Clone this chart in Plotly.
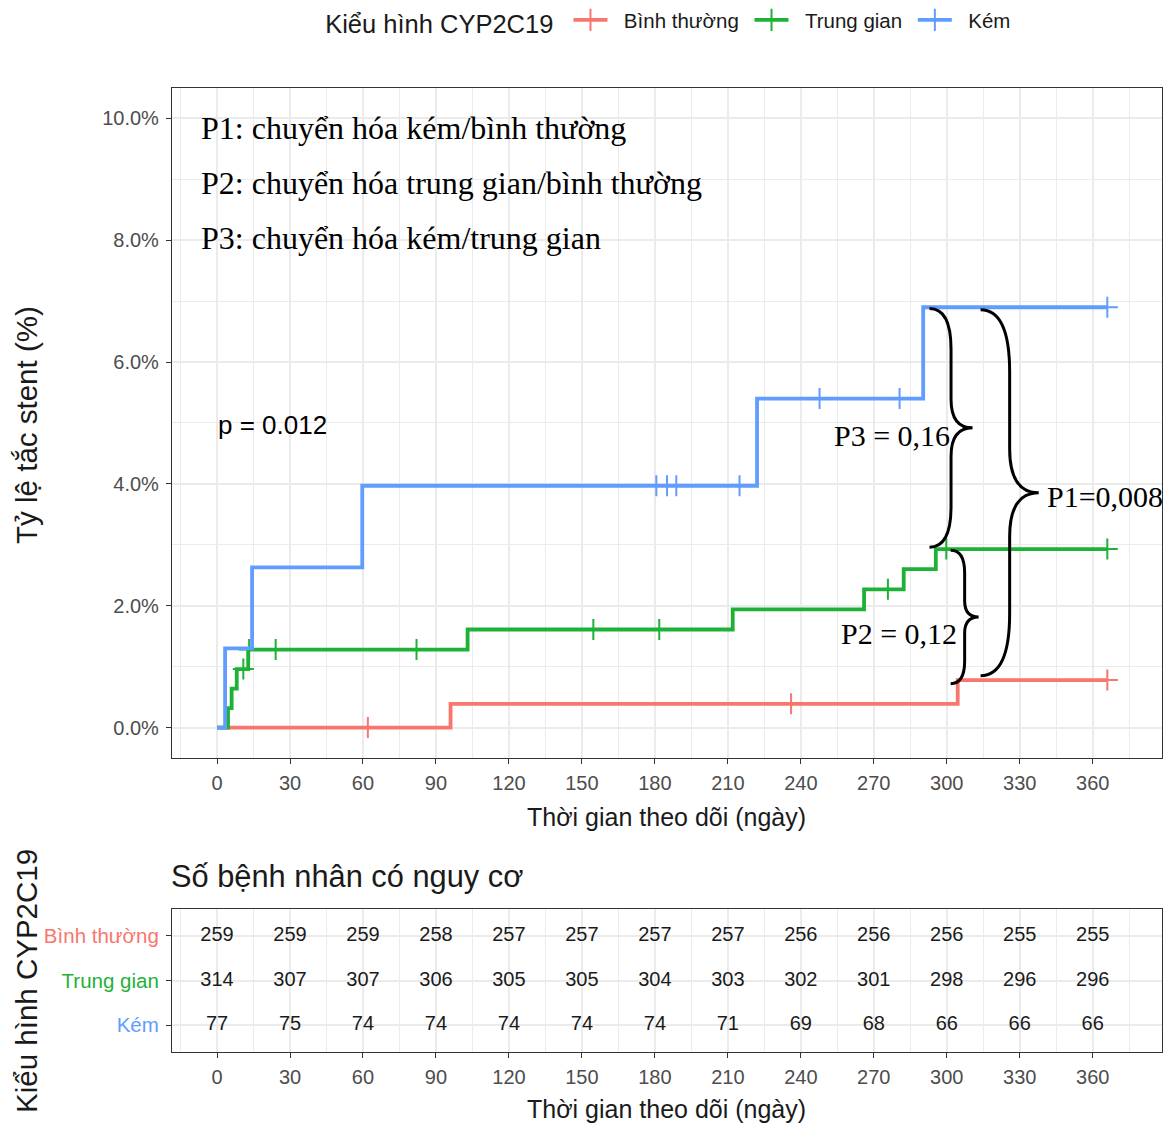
import plotly.graph_objects as go

# ---- Cumulative stent occlusion by CYP2C19 phenotype ----
group_names = ["Bình thường", "Trung gian", "Kém"]
group_colors = ["#F8766D", "#1DB236", "#619CFF"]

# event days and cumulative incidence (%) reached after each event
normal_event_days = [96, 304.5]
normal_cum_pct = [0.39, 0.78]
normal_censor_days = [62, 236, 366]

inter_event_days = [4.5, 6, 8.1, 12.8, 103, 212, 266, 282.3, 295.5]
inter_cum_pct = [0.32, 0.64, 0.96, 1.28, 1.61, 1.94, 2.27, 2.60, 2.93]
inter_censor_days = [10.8, 13.2, 24.1, 82, 154.7, 181.8, 275.8, 299.8, 366]

poor_event_days = [3.3, 14.4, 59.7, 222, 290.3]
poor_cum_pct = [1.30, 2.63, 3.97, 5.40, 6.90]
poor_censor_days = [180.6, 185, 188.8, 214.8, 247.7, 280.6, 366]

follow_up_end = 366

# ---- numbers at risk ----
risk_days = [0, 30, 60, 90, 120, 150, 180, 210, 240, 270, 300, 330, 360]
risk_normal = [259, 259, 259, 258, 257, 257, 257, 257, 256, 256, 256, 255, 255]
risk_inter = [314, 307, 307, 306, 305, 305, 304, 303, 302, 301, 298, 296, 296]
risk_poor = [77, 75, 74, 74, 74, 74, 74, 71, 69, 68, 66, 66, 66]

x_ticks = [0, 30, 60, 90, 120, 150, 180, 210, 240, 270, 300, 330, 360]
y_ticks = [0, 2, 4, 6, 8, 10]

p_value_text = "p = 0.012"
legend_lines = [
    "P1: chuyển hóa kém/bình thường",
    "P2: chuyển hóa trung gian/bình thường",
    "P3: chuyển hóa kém/trung gian",
]
pair_labels = {"P3": "P3 = 0,16", "P2": "P2 = 0,12", "P1": "P1=0,008"}

SANS = "Liberation Sans, Arial, sans-serif"
SERIF = "Liberation Serif, Times New Roman, serif"
GRID = "#EBEBEB"
BORDER = "#333333"
TICKTXT = "#4D4D4D"
NBSP = "&nbsp;"

series = [
    (normal_event_days, normal_cum_pct, normal_censor_days),
    (inter_event_days, inter_cum_pct, inter_censor_days),
    (poor_event_days, poor_cum_pct, poor_censor_days),
]


def level_at(day, events, levels):
    val = 0.0
    for t, v in zip(events, levels):
        if t <= day:
            val = v
    return val


fig = go.Figure()

for name, color, (ev, lv, cens) in zip(group_names, group_colors, series):
    xs = [0] + list(ev) + [follow_up_end]
    ys = [0] + list(lv) + [lv[-1]]
    fig.add_trace(go.Scatter(
        x=xs, y=ys, mode="lines", line=dict(color=color, width=3.8, shape="hv"),
        showlegend=False, legendgroup=name, hoverinfo="skip",
        xaxis="x", yaxis="y",
    ))
    fig.add_trace(go.Scatter(
        x=cens, y=[level_at(d, ev, lv) for d in cens], mode="markers",
        marker=dict(symbol="cross-thin", size=15, color=color,
                    line=dict(color=color, width=2)),
        showlegend=False, legendgroup=name, hoverinfo="skip",
        xaxis="x", yaxis="y",
    ))
    # legend key: line with a censor cross
    fig.add_trace(go.Scatter(
        x=[None], y=[None], mode="lines+markers",
        name=NBSP * 2 + name + NBSP, legendgroup=name,
        line=dict(color=color, width=3.8),
        marker=dict(symbol="cross-thin", size=17, color=color,
                    line=dict(color=color, width=2)),
        xaxis="x", yaxis="y",
    ))

# risk table text
risk_rows = [risk_normal, risk_inter, risk_poor]
row_pos = [3, 2, 1]
for counts, pos in zip(risk_rows, row_pos):
    fig.add_trace(go.Scatter(
        x=risk_days, y=[pos] * len(risk_days), mode="text",
        text=[str(c) for c in counts], textposition="middle center",
        textfont=dict(family=SANS, size=20, color="#1A1A1A"),
        showlegend=False, hoverinfo="skip", xaxis="x2", yaxis="y2",
    ))


def brace_path(x0, y_top, y_bot, width):
    """Right-pointing curly brace from (x0, y_top) to (x0, y_bot)."""
    h = y_top - y_bot
    a = width / 2.0
    ym = (y_top + y_bot) / 2.0
    hk = 0.17 * h
    hk2 = 0.12 * h
    xm = x0 + a
    return (
        f"M {x0},{y_top} Q {xm},{y_top} {xm},{y_top - hk} "
        f"L {xm},{ym + hk2} Q {xm},{ym} {x0 + width},{ym} "
        f"Q {xm},{ym} {xm},{ym - hk2} "
        f"L {xm},{y_bot + hk} Q {xm},{y_bot} {x0},{y_bot}"
    )


blue_end = poor_cum_pct[-1]
green_end = inter_cum_pct[-1]
red_end = normal_cum_pct[-1]

braces = [
    (292.9, blue_end - 0.02, green_end + 0.03, 17.7),   # P3
    (301.6, green_end - 0.02, red_end - 0.06, 11.5),    # P2
    (313.9, blue_end - 0.04, red_end + 0.07, 23.9),     # P1
]
shapes = []
for x0, yt, yb, w in braces:
    shapes.append(dict(type="path", path=brace_path(x0, yt, yb, w),
                       xref="x", yref="y", line=dict(color="black", width=3),
                       fillcolor="rgba(0,0,0,0)", layer="above"))

annotations = []
for i, line in enumerate(legend_lines):
    annotations.append(dict(
        x=-7.4, y=9.84 - 0.905 * i, xref="x", yref="y", text=line,
        showarrow=False, xanchor="left", yanchor="middle",
        font=dict(family=SERIF, size=32, color="black"),
    ))
annotations.append(dict(
    x=-0.5, y=4.96, xref="x", yref="y", text=p_value_text, showarrow=False,
    xanchor="left", yanchor="middle", font=dict(family=SANS, size=26, color="black"),
))
annotations += [
    dict(x=302.2, y=4.8, xref="x", yref="y", text=pair_labels["P3"], showarrow=False,
         xanchor="right", yanchor="middle", font=dict(family=SERIF, size=30, color="black")),
    dict(x=305.0, y=1.55, xref="x", yref="y", text=pair_labels["P2"], showarrow=False,
         xanchor="right", yanchor="middle", font=dict(family=SERIF, size=30, color="black")),
    dict(x=340.3, y=3.8, xref="x", yref="y", text=pair_labels["P1"], showarrow=False,
         xanchor="left", yanchor="middle", font=dict(family=SERIF, size=30, color="black")),
]
# axis titles and table title
annotations += [
    dict(x=0.569, y=0.2744, xref="paper", yref="paper", text="Thời gian theo dõi (ngày)",
         showarrow=False, xanchor="center", yanchor="middle",
         font=dict(family=SANS, size=25, color="#1A1A1A")),
    dict(x=0.569, y=0.0151, xref="paper", yref="paper", text="Thời gian theo dõi (ngày)",
         showarrow=False, xanchor="center", yanchor="middle",
         font=dict(family=SANS, size=25, color="#1A1A1A")),
    dict(x=0.023, y=0.6226, xref="paper", yref="paper", text="Tỷ lệ tắc stent (%)",
         showarrow=False, textangle=-90, xanchor="center", yanchor="middle",
         font=dict(family=SANS, size=29.5, color="#1A1A1A")),
    dict(x=0.023, y=0.1288, xref="paper", yref="paper", text="Kiểu hình CYP2C19",
         showarrow=False, textangle=-90, xanchor="center", yanchor="middle",
         font=dict(family=SANS, size=29.5, color="#1A1A1A")),
    dict(x=0.1445, y=0.222, xref="paper", yref="paper", text="Số bệnh nhân có nguy cơ",
         showarrow=False, xanchor="left", yanchor="middle",
         font=dict(family=SANS, size=30.8, color="#1A1A1A")),
]

x_common = dict(
    range=[-18.5, 388.5], tickmode="array", tickvals=x_ticks,
    ticks="outside", ticklen=5, tickwidth=1.3, tickcolor=BORDER,
    tickfont=dict(family=SANS, size=20, color=TICKTXT), ticklabelstandoff=2,
    showgrid=True, gridcolor=GRID, gridwidth=1.6,
    minor=dict(tickmode="linear", tick0=15, dtick=30, showgrid=True,
               gridcolor=GRID, gridwidth=1.0, ticklen=0),
    showline=True, mirror=True, linecolor=BORDER, linewidth=1.3,
    zeroline=False, fixedrange=True,
)
fig.update_layout(
    width=1172, height=1126, autosize=False,
    margin=dict(l=0, r=0, t=0, b=0),
    paper_bgcolor="white", plot_bgcolor="white",
    font=dict(family=SANS, color="#1A1A1A"),
    xaxis=dict(domain=[0.1468, 0.9915], anchor="y", **x_common),
    yaxis=dict(
        domain=[0.3268, 0.9219], anchor="x", range=[-0.5, 10.5],
        tickmode="array", tickvals=y_ticks,
        ticktext=[f"{v:.1f}%" for v in y_ticks],
        ticks="outside", ticklen=5, tickwidth=1.3, tickcolor=BORDER,
        tickfont=dict(family=SANS, size=20, color=TICKTXT), ticklabelstandoff=3,
        showgrid=True, gridcolor=GRID, gridwidth=1.6,
        minor=dict(tickmode="linear", tick0=1, dtick=2, showgrid=True,
                   gridcolor=GRID, gridwidth=1.0, ticklen=0),
        showline=True, mirror=True, linecolor=BORDER, linewidth=1.3,
        zeroline=False, fixedrange=True,
    ),
    xaxis2=dict(domain=[0.1468, 0.9915], anchor="y2", **x_common),
    yaxis2=dict(
        domain=[0.0657, 0.1927], anchor="x2", range=[0.4, 3.6],
        tickmode="array", tickvals=row_pos,
        ticktext=[f"<span style='color:{c}'>{n}</span>"
                  for n, c in zip(group_names, group_colors)],
        ticks="outside", ticklen=5, tickwidth=1.3, tickcolor=BORDER,
        tickfont=dict(family=SANS, size=20.5), ticklabelstandoff=3,
        showgrid=True, gridcolor=GRID, gridwidth=1.6,
        showline=True, mirror=True, linecolor=BORDER, linewidth=1.3,
        zeroline=False, fixedrange=True,
    ),
    legend=dict(
        orientation="h", x=0.5735, xanchor="center", y=0.9805, yanchor="middle",
        title=dict(text="Kiểu hình CYP2C19&nbsp;", side="left",
                   font=dict(family=SANS, size=25.5, color="#1A1A1A")),
        font=dict(family=SANS, size=20.5, color="#1A1A1A"),
        bgcolor="rgba(0,0,0,0)", itemwidth=34, tracegroupgap=0,
    ),
    shapes=shapes,
    annotations=annotations,
)

fig.write_html("out.html")
